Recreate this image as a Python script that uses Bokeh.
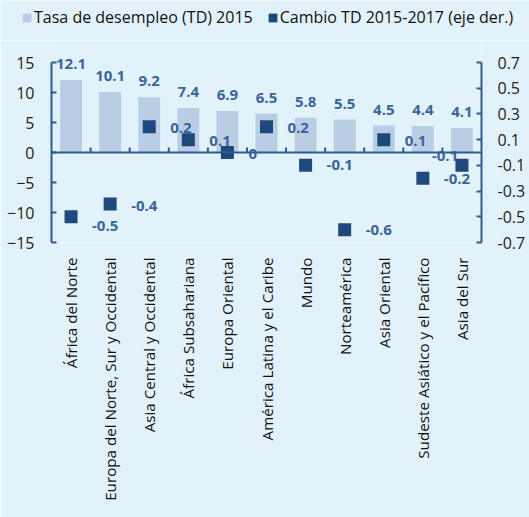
from math import pi
from bokeh.plotting import figure
from bokeh.layouts import column
from bokeh.models import (FactorRange, Range1d, LinearAxis, FixedTicker, Span,
                          Legend, LegendItem, PrintfTickFormatter, ColumnDataSource)
from bokeh.core.properties import value
from bokeh.embed import file_html
from bokeh.resources import INLINE

categories = ["África del Norte", "Europa del Norte, Sur y Occidental",
              "Asia Central y Occidental", "África Subsahariana", "Europa Oriental",
              "América Latina y el Caribe", "Mundo", "Norteamérica", "Asia Oriental",
              "Sudeste Asiático y el Pacífico", "Asia del Sur"]
td_2015 = [12.1, 10.1, 9.2, 7.4, 6.9, 6.5, 5.8, 5.5, 4.5, 4.4, 4.1]
cambio_td = [-0.5, -0.4, 0.2, 0.1, 0.0, 0.2, -0.1, -0.6, 0.1, -0.2, -0.1]
left_ticks = [-15, -10, -5, 0, 5, 10, 15]
right_ticks = [-0.7, -0.5, -0.3, -0.1, 0.1, 0.3, 0.5, 0.7]
series_names = ["Tasa de desempleo (TD) 2015", "Cambio TD 2015-2017 (eje der.)"]

BG = "#E2F2FA"
BAR = "#B9CDE5"
DARK = "#1F497D"
AXIS = "#2E5A92"
LBL = "#3C6499"
FONT = "Open Sans"

W, H = 529, 517
LEG_H = 40
MAIN_H = H - LEG_H
Y15 = 62 - LEG_H     # pixel row of value 15 inside main figure
YM15 = 242 - LEG_H   # pixel row of value -15 inside main figure
PX = (YM15 - Y15) / 30.0
ytop = 15 + Y15 / PX
rtop = ytop * 0.7 / 15

# ---------- legend strip ----------
lg = figure(width=W, height=LEG_H, x_range=(0, 1), y_range=(0, 1),
            x_axis_type=None, y_axis_type=None, output_backend="svg",
            toolbar_location=None, min_border=0)
lg.background_fill_color = BG
lg.border_fill_color = BG
lg.outline_line_color = None
lg.grid.visible = False
r1 = lg.vbar(x=[5], top=[1], width=0.1, fill_color=BAR, line_color=None)
r2 = lg.vbar(x=[5], top=[1], width=0.1, fill_color=DARK, line_color=None)
legend = Legend(items=[LegendItem(label=series_names[0], renderers=[r1]),
                       LegendItem(label=series_names[1], renderers=[r2])],
                orientation="horizontal", location=(21, 12),
                background_fill_alpha=0, border_line_color=None,
                padding=0, margin=0, spacing=14, label_standoff=2,
                glyph_width=11, glyph_height=11,
                label_text_font=FONT, label_text_font_size="16px",
                label_text_color="#111111")
lg.add_layout(legend, "center")

# ---------- main chart ----------
p = figure(width=W, height=MAIN_H, x_range=FactorRange(*categories, range_padding=0),
           y_range=Range1d(-15, ytop), output_backend="svg", toolbar_location=None,
           min_border_left=51, min_border_right=48, min_border_top=0,
           min_border_bottom=MAIN_H - YM15)
p.extra_y_ranges = {"right": Range1d(-0.7, rtop)}
p.background_fill_color = BG
p.border_fill_color = BG
p.outline_line_color = None
p.grid.visible = False

for fig in (lg, p):
    if "frame_align" in fig.properties():
        fig.frame_align = False

src = ColumnDataSource(dict(cat=categories, td=td_2015, ch=cambio_td,
                            td_lbl=[f"{v:g}" for v in td_2015],
                            ch_lbl=[f"{v:g}" for v in cambio_td]))

p.vbar(x="cat", top="td", bottom=0, width=0.56, source=src,
       fill_color=BAR, line_color=None)
p.scatter(x="cat", y="ch", source=src, marker="square", size=13,
          fill_color=DARK, line_color=None, y_range_name="right")

# x-axis line at zero with boundary ticks
p.add_layout(Span(location=0, dimension="width", line_color=AXIS, line_width=2))
bounds = list(range(1, len(categories)))
p.segment(x0=bounds, y0=[0] * len(bounds), x1=bounds, y1=[5 / PX] * len(bounds),
          line_color=AXIS, line_width=2)

# data labels
p.text(x="cat", y="td", text="td_lbl", source=src, text_align="center",
       text_baseline="alphabetic", y_offset=-16, text_color=LBL,
       text_font=value(FONT), text_font_style="bold", text_font_size="15px")
src.data["xoff"] = [21] * 10 + [-30]
src.data["yoff"] = [9, 2, 1, 1, 1, 1, 0, 0, 1, 1, -9]
p.text(x="cat", y="ch", text="ch_lbl", source=src, text_align="left",
       text_baseline="middle", x_offset="xoff", y_offset="yoff", text_color=LBL,
       text_font=value(FONT), text_font_style="bold", text_font_size="15px",
       y_range_name="right")

# axes
ax = p.yaxis[0]
ax.ticker = FixedTicker(ticks=left_ticks)
ax.bounds = (-15, 15)
rax = LinearAxis(y_range_name="right", ticker=FixedTicker(ticks=right_ticks),
                 formatter=PrintfTickFormatter(format="%.1f"), bounds=(-0.7, 0.7))
p.add_layout(rax, "right")
for a in [ax, rax]:
    a.axis_line_color = AXIS
    a.axis_line_width = 2
    a.major_tick_line_color = AXIS
    a.major_tick_line_width = 2
    a.major_tick_in = 5
    a.major_tick_out = 0
    a.minor_tick_line_color = None
    a.major_label_text_font = FONT
    a.major_label_text_font_size = "16px"
    a.major_label_text_color = "#222222"
ax.major_label_standoff = 17
rax.major_label_standoff = 16

xa = p.xaxis[0]
xa.axis_line_color = None
xa.major_tick_line_color = None
xa.major_tick_out = 0
xa.major_tick_in = 0
xa.major_label_orientation = pi / 2
xa.major_label_standoff = 15
xa.major_label_text_font = FONT
xa.major_label_text_font_size = "15.2px"
xa.major_label_text_color = "#111111"

layout = column(lg, p, spacing=0)
open("out.html", "w").write(file_html(layout, INLINE))
